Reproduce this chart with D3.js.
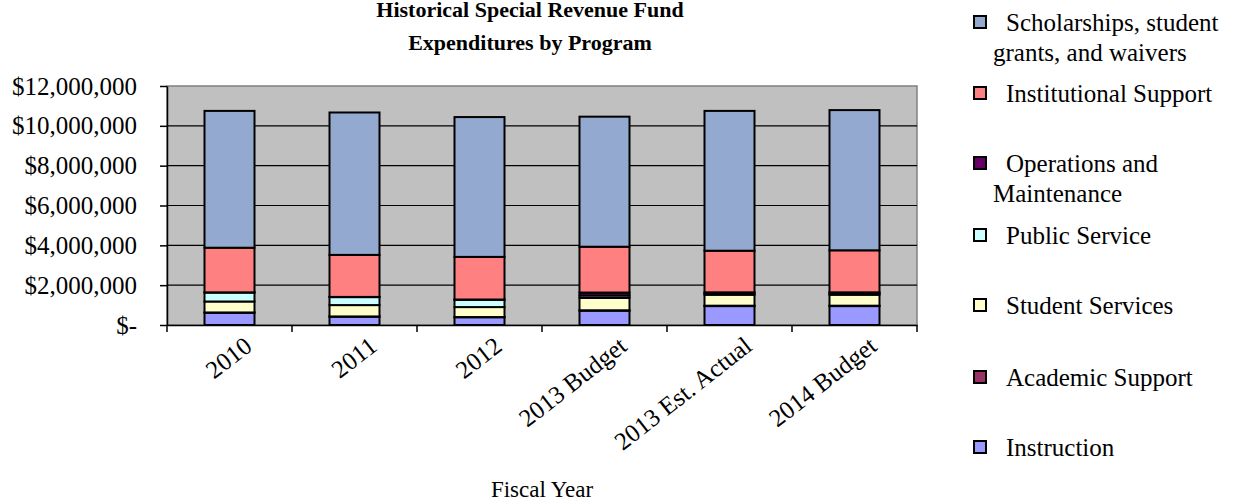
<!DOCTYPE html>
<html><head><meta charset="utf-8">
<script src="https://cdn.jsdelivr.net/npm/d3@7"></script>
<style>body{margin:0;background:#fff}svg{display:block}text{font-family:"Liberation Serif","Times New Roman",serif;fill:#000}</style>
</head><body>
<svg id="c" width="1239" height="502"></svg>
<script>
const categories = ["2010","2011","2012","2013 Budget","2013 Est. Actual","2014 Budget"];
const seriesNames = ["Instruction","Academic Support","Student Services","Public Service","Operations and Maintenance","Institutional Support","Scholarships, student grants, and waivers"];
const instruction      = [620000, 420000, 390000, 720000, 950000, 950000];
const academicSupport  = [10000, 10000, 10000, 20000, 20000, 20000];
const studentServices  = [550000, 570000, 500000, 620000, 550000, 550000];
const publicService    = [450000, 400000, 370000, 120000, 60000, 60000];
const operations       = [10000, 10000, 10000, 150000, 60000, 60000];
const institutional    = [2240000, 2110000, 2140000, 2300000, 2090000, 2110000];
const scholarships     = [6870000, 7150000, 7020000, 6530000, 7020000, 7040000];
const colors = ["#9999FF","#993366","#FFFFCC","#CCFFFF","#660066","#FF8080","#94A9D0"];
const yTicks = [0,2000000,4000000,6000000,8000000,10000000,12000000];
const legendLines = [
  ["Scholarships, student","grants, and waivers"],
  ["Institutional Support"],
  ["Operations and","Maintenance"],
  ["Public Service"],
  ["Student Services"],
  ["Academic Support"],
  ["Instruction"]
];

const values = [instruction, academicSupport, studentServices, publicService, operations, institutional, scholarships];
const rows = categories.map((c,i)=>{const o={cat:c}; seriesNames.forEach((s,j)=>o[s]=values[j][i]); return o;});
const stack = d3.stack().keys(seriesNames)(rows);

const svg = d3.select("#c");
const L=167,R=917,T=86,B=325;
const x = d3.scaleBand().domain(categories).range([L,R]).paddingInner(0).paddingOuter(0);
const y = d3.scaleLinear().domain([0,12000000]).range([B,T]);

svg.append("rect").attr("x",L).attr("y",T).attr("width",R-L).attr("height",B-T).attr("fill","#C0C0C0").attr("stroke","#808080").attr("stroke-width",1.5);

svg.append("g").selectAll("line").data(yTicks.slice(1,-1)).join("line")
  .attr("x1",L).attr("x2",R).attr("y1",d=>y(d)).attr("y2",d=>y(d)).attr("stroke","#000").attr("stroke-width",1.2);

const bw = x.bandwidth()*0.4;
svg.append("g").selectAll("g").data(stack).join("g").attr("fill",(d,i)=>colors[i])
  .selectAll("rect").data(d=>d).join("rect")
  .attr("x",d=>x(d.data.cat)+x.bandwidth()/2-bw/2).attr("width",bw)
  .attr("y",d=>y(d[1])).attr("height",d=>y(d[0])-y(d[1]))
  .attr("stroke","#000").attr("stroke-width",2);

const fmt = d=> d===0 ? "$-" : "$"+d3.format(",")(d);
const ya = svg.append("g").attr("transform",`translate(${L},0)`).call(d3.axisLeft(y).tickValues(yTicks).tickFormat(fmt).tickSize(7).tickSizeOuter(0).tickPadding(23));
ya.select(".domain").attr("stroke","#000").attr("stroke-width",1.5);
ya.selectAll(".tick line").attr("stroke","#000").attr("stroke-width",1.5);
ya.selectAll("text").attr("font-family","Liberation Serif").attr("font-size",25).attr("fill","#000");

const xa = svg.append("g").attr("transform",`translate(0,${B})`).call(d3.axisBottom(x).tickSize(0).tickSizeOuter(0).tickFormat(""));
xa.select(".domain").attr("stroke","#000").attr("stroke-width",1.5);
svg.append("g").selectAll("line").data(d3.range(categories.length+1)).join("line")
  .attr("x1",i=>L+i*x.bandwidth()).attr("x2",i=>L+i*x.bandwidth()).attr("y1",B).attr("y2",B+7).attr("stroke","#000").attr("stroke-width",1.5);
svg.append("g").selectAll("text").data(categories).join("text")
  .attr("transform",d=>`translate(${x(d)+x.bandwidth()/2+24},${B+24}) rotate(-38)`)
  .attr("text-anchor","end").attr("font-size",25).text(d=>d);

svg.append("text").attr("x",530).attr("y",17).attr("text-anchor","middle").attr("font-size",22).attr("font-weight","bold").text("Historical Special Revenue Fund");
svg.append("text").attr("x",530).attr("y",50).attr("text-anchor","middle").attr("font-size",22).attr("font-weight","bold").text("Expenditures by Program");
svg.append("text").attr("x",(L+R)/2).attr("y",497).attr("text-anchor","middle").attr("font-size",23).text("Fiscal Year");

const legY = [22,93,163,235,305,377,447];
const lg = svg.append("g");
legendLines.forEach((lines,k)=>{
  const si = seriesNames.length-1-k;
  lg.append("rect").attr("x",974).attr("y",legY[k]-6).attr("width",12).attr("height",12).attr("fill",colors[si]).attr("stroke","#000").attr("stroke-width",2);
  lines.forEach((t,j)=>{
    lg.append("text").attr("x", j===0?1006:993).attr("y",legY[k]+30*j).attr("dy","0.35em").attr("font-size",25).text(t);
  });
});
</script>
</body></html>
